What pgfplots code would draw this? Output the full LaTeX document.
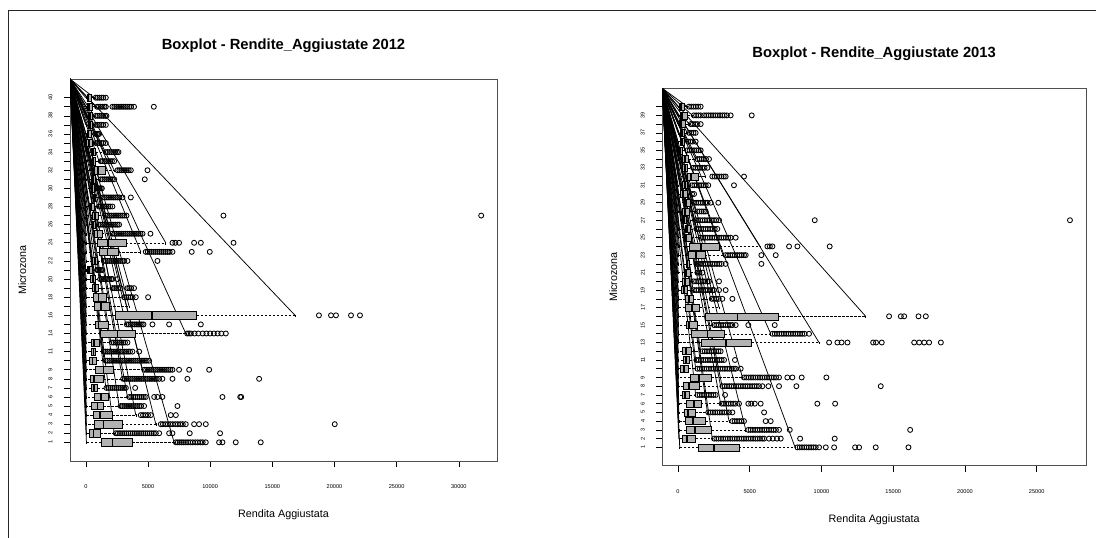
\documentclass[border=0pt]{standalone}
\usepackage{fontspec}
\setmainfont{Liberation Sans}
\usepackage{pgfplots}
\pgfplotsset{compat=1.18}
\usepgfplotslibrary{statistics}
\definecolor{boxgray}{RGB}{178,178,178}
\definecolor{framegray}{RGB}{80,80,80}
\pgfplotsset{
  common/.style={
    scale only axis, anchor=south west,
    scaled x ticks=false, scaled y ticks=false,
    axis line style={framegray, line width=0.8bp},
    tick align=outside, major tick length=6bp,
    tick style={black, line width=0.6bp},
    xtick pos=left, ytick pos=left,
    ticklabel style={font=\fontsize{5.6}{6}\selectfont},
    xticklabel style={anchor=north, yshift=-14bp},
    yticklabel style={rotate=90, anchor=south, xshift=0bp},
    yticklabel shift=8bp,
    label style={font=\fontsize{10.8}{12}\selectfont},
    title style={font=\bfseries\fontsize{14.8}{16}\selectfont, anchor=center},
    boxplot/draw direction=x,
    boxplot/box extend=0.8,
    boxplot/whisker extend=0.4,
    boxplot/every box/.style={draw=black, fill=boxgray, line width=0.55bp},
    boxplot/every whisker/.style={dash pattern=on 2.5bp off 1.5bp, line width=0.55bp},
    boxplot/every median/.style={line width=1.8bp},
  },
  bx/.style={black, mark=o, mark size=2.5bp, mark options={solid, line width=0.85bp}, line width=0.55bp},
  diag/.style={black, line width=0.75bp, unbounded coords=jump},
}
% 2012 panel: corner (-1272, 41.06)
\newcommand{\bxL}[7]{%
  \addplot[diag] coordinates {(-1272,41.06) (#6,#1) (nan,nan) (-1272,41.06) (#2,#1)};
  \addplot[bx, boxplot prepared={draw position=#1, lower whisker=#2, lower quartile=#3, median=#4, upper quartile=#5, upper whisker=#6}] table[row sep=\\, y index=0] {v\\ #7};
}
\newcommand{\bxLn}[6]{%
  \addplot[diag] coordinates {(-1272,41.06) (#6,#1) (nan,nan) (-1272,41.06) (#2,#1)};
  \addplot[bx, boxplot prepared={draw position=#1, lower whisker=#2, lower quartile=#3, median=#4, upper quartile=#5, upper whisker=#6}] coordinates {};
}
% 2013 panel: corner (-1094, 42.1)
\newcommand{\bxR}[7]{%
  \addplot[diag] coordinates {(-1094,42.1) (#6,#1) (nan,nan) (-1094,42.1) (#2,#1)};
  \addplot[bx, boxplot prepared={draw position=#1, lower whisker=#2, lower quartile=#3, median=#4, upper quartile=#5, upper whisker=#6}] table[row sep=\\, y index=0] {v\\ #7};
}
\newcommand{\bxRn}[6]{%
  \addplot[diag] coordinates {(-1094,42.1) (#6,#1) (nan,nan) (-1094,42.1) (#2,#1)};
  \addplot[bx, boxplot prepared={draw position=#1, lower whisker=#2, lower quartile=#3, median=#4, upper quartile=#5, upper whisker=#6}] coordinates {};
}
\begin{document}
\begin{tikzpicture}
\useasboundingbox (0,0) rectangle (1096bp,538bp);
\draw[black!85, line width=1bp] (8bp,0) -- (8bp,527.5bp) -- (1096bp,527.5bp);

\begin{axis}[common, at={(70bp,77bp)}, width=427bp, height=382bp,
  xmin=-1272, xmax=33072, ymin=-1.06, ymax=41.06,
  xtick={0,5000,10000,15000,20000,25000,30000},
  xticklabels={0,5000,10000,15000,20000,25000,30000},
  ytick={1,...,39},
  yticklabels={1,2,3,4,5,6,7,8,9,{},11,{},14,{},16,{},18,{},20,{},22,{},24,{},26,{},28,{},30,{},32,{},34,{},36,{},38,{},40},
  title={Boxplot - Rendite\_Aggiustate 2012},
  title style={at={(axis description cs:0.5,1.0715)}},
  xlabel={Rendita Aggiustata},
  xlabel style={at={(axis description cs:0.5,-0.141)}, anchor=center},
  ylabel={Microzona},
  ylabel style={at={(axis description cs:-0.112,0.5)}, anchor=center},
]
\bxL{1}{50}{1230}{2140}{3750}{7100}{7240\\7400\\7560\\7720\\7880\\8050\\8220\\8400\\8600\\8800\\9000\\9200\\9400\\9650\\10720\\10990\\12060\\14070\\}
\bxL{2}{50}{270}{620}{1150}{2280}{2410\\2580\\2750\\2920\\3090\\3260\\3430\\3600\\3770\\3940\\4110\\4280\\4450\\4620\\4790\\4960\\5130\\5300\\5470\\5630\\5900\\6700\\6970\\8360\\10800\\}
\bxL{3}{50}{720}{1420}{2900}{5630}{6030\\6200\\6400\\6600\\6800\\7000\\7200\\7400\\7600\\7800\\8040\\8710\\9110\\9650\\20020\\}
\bxL{4}{40}{560}{1130}{2140}{4020}{4420\\4600\\4800\\5000\\5230\\6830\\7240\\}
\bxL{5}{40}{460}{940}{1420}{2680}{2800\\2950\\3100\\3250\\3400\\3550\\3700\\3850\\4000\\4150\\4300\\4450\\4690\\7370\\}
\bxL{6}{40}{670}{1210}{1820}{3350}{3480\\3650\\3820\\3990\\4160\\4330\\4500\\4660\\4820\\5500\\5760\\6160\\10990\\12420\\12500\\}
\bxL{7}{40}{430}{670}{960}{1610}{1660\\1820\\1980\\2140\\2300\\2460\\2620\\2780\\2940\\3080\\3220\\3970\\}
\bxL{8}{40}{350}{670}{1390}{2950}{3000\\3150\\3300\\3450\\3600\\3750\\3900\\4050\\4200\\4350\\4500\\4650\\4800\\4950\\5100\\5250\\5400\\5550\\5700\\5900\\6160\\6970\\8170\\13940\\}
\bxL{9}{40}{780}{1420}{2220}{4560}{4700\\4850\\5000\\5150\\5300\\5450\\5600\\5750\\5900\\6050\\6200\\6350\\6500\\6650\\6800\\6970\\7500\\8310\\9920\\}
\bxL{10}{30}{270}{540}{860}{1470}{1600\\1750\\1900\\2050\\2200\\2350\\2500\\2650\\2800\\2950\\3100\\3250\\3400\\3550\\3700\\3850\\4000\\4150\\4300\\4450\\4600\\4750\\4900\\5090\\}
\bxL{11}{30}{400}{620}{800}{1340}{1450\\1600\\1750\\1900\\2050\\2200\\2350\\2500\\2650\\2800\\2950\\3100\\3250\\3400\\3550\\3750\\4290\\}
\bxL{12}{30}{400}{640}{1070}{2010}{2100\\2250\\2400\\2550\\2700\\2850\\3000\\3150\\3350\\}
\bxL{13}{40}{1150}{2550}{3970}{8040}{8150\\8300\\8450\\8750\\9050\\9400\\9700\\10000\\10300\\10600\\10900\\11260\\}
\bxL{14}{40}{750}{1020}{1800}{3220}{3300\\3450\\3600\\3750\\3900\\4050\\4200\\4350\\4500\\4640\\5360\\6700\\9250\\}
\bxL{15}{40}{2330}{5310}{8920}{16830}{18750\\19720\\20120\\21330\\22050\\}
\bxLn{16}{40}{670}{1210}{1880}{3480}
\bxL{17}{40}{620}{1020}{1660}{2950}{3080\\3250\\3420\\3590\\3760\\4020\\5010\\}
\bxL{18}{30}{480}{720}{990}{2010}{2140\\2300\\2450\\2600\\2810\\3350\\3500\\3650\\3880\\}
\bxL{19}{30}{320}{590}{800}{1070}{1150\\1300\\1450\\1600\\1750\\1900\\2050\\2140\\2550\\}
\bxL{20}{0}{80}{270}{540}{800}{900\\1000\\1100\\1200\\1340\\}
\bxL{21}{30}{540}{750}{940}{1340}{1450\\1600\\1750\\1900\\2050\\2200\\2350\\2500\\2650\\2800\\2950\\3100\\3350\\5760\\}
\bxL{22}{40}{1070}{1740}{2620}{4420}{4820\\4980\\5140\\5300\\5460\\5620\\5780\\5940\\6100\\6260\\6420\\6580\\6740\\6970\\8520\\9970\\}
\bxL{23}{40}{940}{1800}{3220}{6430}{6970\\7200\\7500\\8710\\9250\\11880\\}
\bxL{24}{30}{720}{940}{1290}{2010}{2140\\2300\\2450\\2600\\2750\\2900\\3050\\3200\\3350\\3500\\3650\\3800\\3950\\4100\\4250\\4400\\4560\\5200\\}
\bxL{25}{30}{480}{620}{800}{940}{1050\\1200\\1350\\1500\\1650\\1800\\1950\\2100\\2250\\2400\\2550\\2680\\}
\bxL{26}{30}{540}{720}{1020}{1470}{1600\\1750\\1900\\2050\\2200\\2350\\2500\\2650\\2800\\2950\\3100\\3270\\11070\\31800\\}
\bxL{27}{0}{270}{430}{670}{940}{1050\\1200\\1350\\1500\\1650\\1800\\1950\\2140\\}
\bxL{28}{30}{590}{670}{800}{1210}{1350\\1500\\1650\\1800\\1950\\2100\\2250\\2400\\2550\\2700\\2950\\3620\\}
\bxL{29}{30}{400}{540}{670}{800}{900\\1000\\1100\\1200\\1290\\}
\bxL{30}{30}{460}{590}{800}{1070}{1200\\1350\\1500\\1650\\1800\\1950\\2100\\2280\\4740\\}
\bxL{31}{30}{720}{990}{1530}{2280}{2550\\2700\\2850\\3000\\3150\\3300\\3450\\3620\\4960\\}
\bxL{32}{30}{480}{620}{800}{1070}{1200\\1350\\1500\\1650\\1800\\1950\\2100\\2280\\}
\bxL{33}{30}{400}{590}{800}{1470}{1610\\1760\\1910\\2060\\2210\\2360\\2500\\2630\\}
\bxL{34}{0}{50}{270}{540}{670}{800\\950\\1100\\1250\\1400\\1610\\}
\bxL{35}{0}{130}{210}{400}{670}{780\\900\\1000\\1070\\}
\bxL{36}{0}{210}{350}{540}{670}{800\\950\\1100\\1250\\1400\\1610\\}
\bxL{37}{0}{210}{320}{480}{670}{800\\950\\1100\\1250\\1400\\1550\\1660\\}
\bxL{38}{0}{130}{270}{540}{800}{900\\1050\\1200\\1350\\1500\\1610\\2140\\2300\\2450\\2600\\2750\\2900\\3050\\3200\\3350\\3500\\3650\\3880\\5470\\}
\bxL{39}{0}{130}{210}{400}{670}{800\\950\\1100\\1250\\1400\\1610\\}
\end{axis}

\begin{axis}[common, at={(662.3bp,72.3bp)}, width=423.7bp, height=377.4bp,
  xmin=-1094, xmax=28434, ymin=-1.1, ymax=42.1,
  xtick={0,5000,10000,15000,20000,25000},
  xticklabels={0,5000,10000,15000,20000,25000},
  ytick={1,...,40},
  yticklabels={1,2,3,4,5,6,7,8,9,{},11,{},13,{},15,{},17,{},19,{},21,{},23,{},25,{},27,{},29,{},31,{},33,{},35,{},37,{},39,{}},
  title={Boxplot - Rendite\_Aggiustate 2013},
  title style={at={(axis description cs:0.5,1.075)}},
  xlabel={Rendita Aggiustata},
  xlabel style={at={(axis description cs:0.5,-0.143)}, anchor=center},
  ylabel={Microzona},
  ylabel style={at={(axis description cs:-0.116,0.5)}, anchor=center},
]
\bxR{1}{120}{1420}{2510}{4250}{8160}{8320\\8480\\8640\\8800\\8960\\9120\\9280\\9440\\9600\\9830\\10300\\10880\\12340\\12620\\13780\\16060\\}
\bxR{2}{60}{300}{600}{1230}{2390}{2510\\2670\\2830\\2990\\3150\\3310\\3470\\3630\\3790\\3950\\4110\\4270\\4430\\4590\\4750\\4910\\5070\\5230\\5390\\5550\\5710\\5870\\6000\\6340\\6600\\6900\\7160\\8510\\10920\\}
\bxR{3}{60}{580}{1190}{2350}{4720}{4900\\5060\\5220\\5380\\5540\\5700\\5860\\6020\\6180\\6340\\6500\\6660\\6820\\7040\\7790\\16180\\}
\bxR{4}{60}{530}{1050}{1930}{3560}{3790\\3950\\4110\\4270\\4430\\4600\\6110\\6460\\}
\bxR{5}{60}{420}{700}{1190}{2050}{2110\\2270\\2430\\2590\\2750\\2910\\3070\\3230\\3390\\3550\\3790\\6000\\}
\bxR{6}{60}{580}{1120}{1600}{2970}{3040\\3200\\3360\\3520\\3680\\3840\\4000\\4250\\4900\\5100\\5350\\5760\\9710\\10950\\}
\bxR{7}{40}{300}{490}{810}{1230}{1350\\1510\\1670\\1830\\1990\\2150\\2310\\2470\\2630\\3280\\}
\bxR{8}{40}{370}{770}{1510}{2970}{3090\\3250\\3410\\3570\\3730\\3890\\4050\\4210\\4370\\4530\\4690\\4850\\5010\\5170\\5330\\5490\\5650\\5880\\6300\\7040\\8250\\14130\\}
\bxR{9}{40}{840}{1490}{2300}{4490}{4600\\4760\\4920\\5080\\5240\\5400\\5560\\5720\\5880\\6040\\6200\\6360\\6520\\6680\\6840\\7040\\7620\\7970\\8620\\10340\\}
\bxR{10}{20}{190}{420}{720}{1230}{1350\\1510\\1670\\1830\\1990\\2150\\2310\\2470\\2630\\2790\\2950\\3110\\3270\\3430\\3590\\3750\\3900\\4020\\4370\\}
\bxR{11}{20}{350}{530}{810}{1230}{1280\\1440\\1600\\1760\\1920\\2080\\2240\\2400\\2560\\2720\\2880\\3040\\3210\\3970\\}
\bxR{12}{20}{300}{580}{930}{1580}{1700\\1860\\2020\\2180\\2340\\2500\\2660\\2820\\2970\\}
\bxR{13}{40}{1650}{3320}{5140}{9830}{10530\\11110\\11400\\11810\\13600\\13800\\14200\\16460\\16810\\17160\\17500\\18320\\}
\bxR{14}{40}{950}{2050}{3250}{6460}{6580\\6740\\6900\\7060\\7220\\7380\\7540\\7700\\7860\\8020\\8180\\8340\\8500\\8660\\8820\\9130\\}
\bxR{15}{40}{580}{770}{1350}{2390}{2510\\2670\\2830\\2990\\3150\\3310\\3470\\3630\\3790\\4020\\4900\\6740\\}
\bxR{16}{40}{1880}{4140}{7000}{13080}{14710\\15530\\15760\\16760\\17270\\}
\bxRn{17}{40}{490}{950}{1510}{2860}
\bxR{18}{40}{530}{770}{1050}{2280}{2350\\2510\\2670\\2830\\3090\\3790\\}
\bxR{19}{20}{260}{420}{650}{1050}{1120\\1280\\1440\\1600\\1760\\1920\\2080\\2240\\2400\\2510\\2860\\3320\\}
\bxR{20}{20}{300}{490}{770}{1000}{1100\\1260\\1420\\1580\\1740\\1900\\2060\\2160\\2860\\}
\bxR{21}{20}{420}{580}{880}{1230}{1350\\1500\\1700\\}
\bxR{22}{20}{580}{650}{810}{1230}{1280\\1440\\1600\\1760\\1920\\2080\\2240\\2400\\2560\\2720\\2880\\3040\\3320\\5810\\}
\bxR{23}{40}{720}{1230}{1880}{3140}{3320\\3480\\3640\\3800\\3960\\4120\\4280\\4440\\4600\\4720\\5810\\6810\\}
\bxR{24}{40}{810}{1580}{2900}{5720}{6230\\6400\\6580\\7740\\8320\\10570\\}
\bxR{25}{20}{420}{580}{930}{1460}{1580\\1740\\1900\\2060\\2220\\2380\\2540\\2700\\2860\\3020\\3180\\3340\\3500\\3670\\4020\\}
\bxR{26}{20}{490}{650}{880}{1230}{1280\\1440\\1600\\1760\\1920\\2080\\2240\\2400\\2560\\2740\\}
\bxR{27}{20}{300}{420}{580}{1120}{1230\\1390\\1550\\1710\\1870\\2030\\2190\\2350\\2510\\2670\\2860\\9530\\27315\\}
\bxR{28}{20}{300}{490}{770}{1230}{1350\\1500\\1650\\1800\\1930\\}
\bxR{29}{20}{420}{530}{880}{1000}{1100\\1260\\1420\\1580\\1740\\1900\\2060\\2280\\2810\\}
\bxR{30}{0}{190}{350}{650}{880}{980\\1120\\}
\bxR{31}{0}{300}{460}{650}{880}{980\\1140\\1300\\1460\\1620\\1780\\1930\\2110\\3900\\}
\bxR{32}{20}{650}{880}{1420}{1930}{2390\\2550\\2710\\2870\\3030\\3190\\3320\\4600\\}
\bxR{33}{20}{300}{490}{650}{950}{1050\\1210\\1370\\1530\\1690\\1850\\2050\\}
\bxR{34}{20}{300}{490}{720}{1230}{1350\\1500\\1650\\1800\\1950\\2160\\}
\bxR{35}{0}{20}{120}{300}{530}{640\\800\\960\\1120\\1280\\1440\\1580\\}
\bxR{36}{0}{190}{300}{420}{580}{700\\860\\1020\\1230\\}
\bxR{37}{0}{190}{300}{420}{650}{760\\920\\1080\\1230\\}
\bxR{38}{0}{70}{210}{490}{770}{880\\1040\\1200\\1360\\1580\\}
\bxR{39}{0}{130}{300}{650}{1000}{1100\\1260\\1420\\1580\\1810\\1970\\2130\\2290\\2450\\2610\\2770\\2930\\3090\\3250\\3410\\3670\\5140\\}
\bxR{40}{0}{70}{190}{420}{650}{760\\920\\1080\\1240\\1400\\1580\\}
\end{axis}
\end{tikzpicture}
\end{document}
